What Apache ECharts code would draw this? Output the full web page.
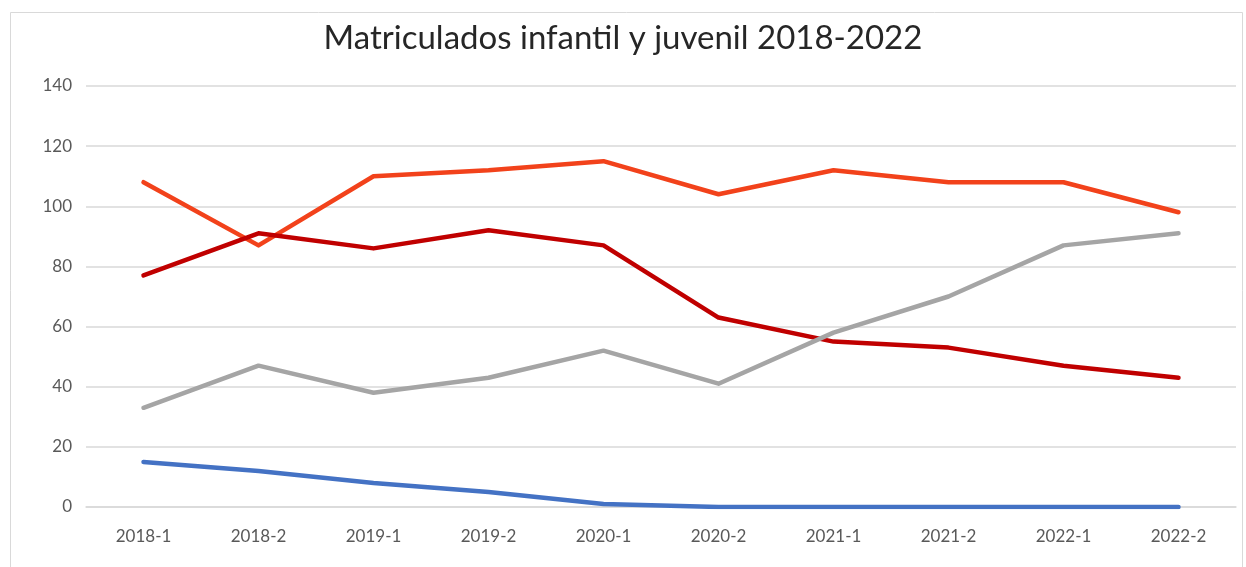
<!DOCTYPE html>
<html lang="es">
<head>
<meta charset="UTF-8">
<script src="https://cdn.jsdelivr.net/npm/echarts@6/dist/echarts.min.js"></script>
<title>Matriculados infantil y juvenil</title>
</head>
<body style="margin:0;background:#fff">
<div id="chart" style="width:1246px;height:567px"></div>
<script type="text/javascript">
    // periodos (semestres)
    var periodos = ['2018-1', '2018-2', '2019-1', '2019-2', '2020-1', '2020-2', '2021-1', '2021-2', '2022-1', '2022-2'];

    // series
    var serieNaranja = [108, 87, 110, 112, 115, 104, 112, 108, 108, 98];
    var serieRoja = [77, 91, 86, 92, 87, 63, 55, 53, 47, 43];
    var serieGris = [33, 47, 38, 43, 52, 41, 58, 70, 87, 91];
    var serieAzul = [15, 12, 8, 5, 1, 0, 0, 0, 0, 0];

    var fuente = 'Lato';

    function linea(nombre, datos, color) {
        return {
            name: nombre,
            type: 'line',
            data: datos,
            symbol: 'none',
            smooth: false,
            lineStyle: { color: color, width: 4.5, cap: 'round', join: 'round' },
            itemStyle: { color: color }
        };
    }

    var myChart = echarts.init(document.getElementById('chart'));
    var option = {
        animation: false,
        backgroundColor: '#fff',
        title: {
            text: 'Matriculados infantil y juvenil 2018-2022',
            left: 'center',
            top: 17,
            textStyle: { fontFamily: fuente, fontSize: 33, fontWeight: 'normal', color: '#262626' }
        },
        graphic: [{
            type: 'rect',
            shape: { x: 10.5, y: 12.5, width: 1232, height: 560 },
            style: { fill: 'none', stroke: '#d9d9d9', lineWidth: 1 },
            silent: true
        }],
        grid: { left: 86, right: 10, top: 86, bottom: 60 },
        xAxis: {
            type: 'category',
            data: periodos,
            boundaryGap: true,
            axisLine: { lineStyle: { color: '#d9d9d9', width: 1.5 } },
            axisTick: { show: false },
            axisLabel: { color: '#595959', fontFamily: fuente, fontSize: 17, margin: 21 }
        },
        yAxis: {
            type: 'value',
            min: 0,
            max: 140,
            interval: 20,
            axisLine: { show: false },
            axisTick: { show: false },
            axisLabel: { color: '#595959', fontFamily: fuente, fontSize: 17, margin: 14 },
            splitLine: { lineStyle: { color: '#d9d9d9', width: 1.5 } }
        },
        series: [
            linea('Serie 1', serieNaranja, '#f2421b'),
            linea('Serie 2', serieRoja, '#c00000'),
            linea('Serie 3', serieGris, '#a5a5a5'),
            linea('Serie 4', serieAzul, '#4472c4')
        ]
    };
    myChart.setOption(option);
</script>
</body>
</html>
